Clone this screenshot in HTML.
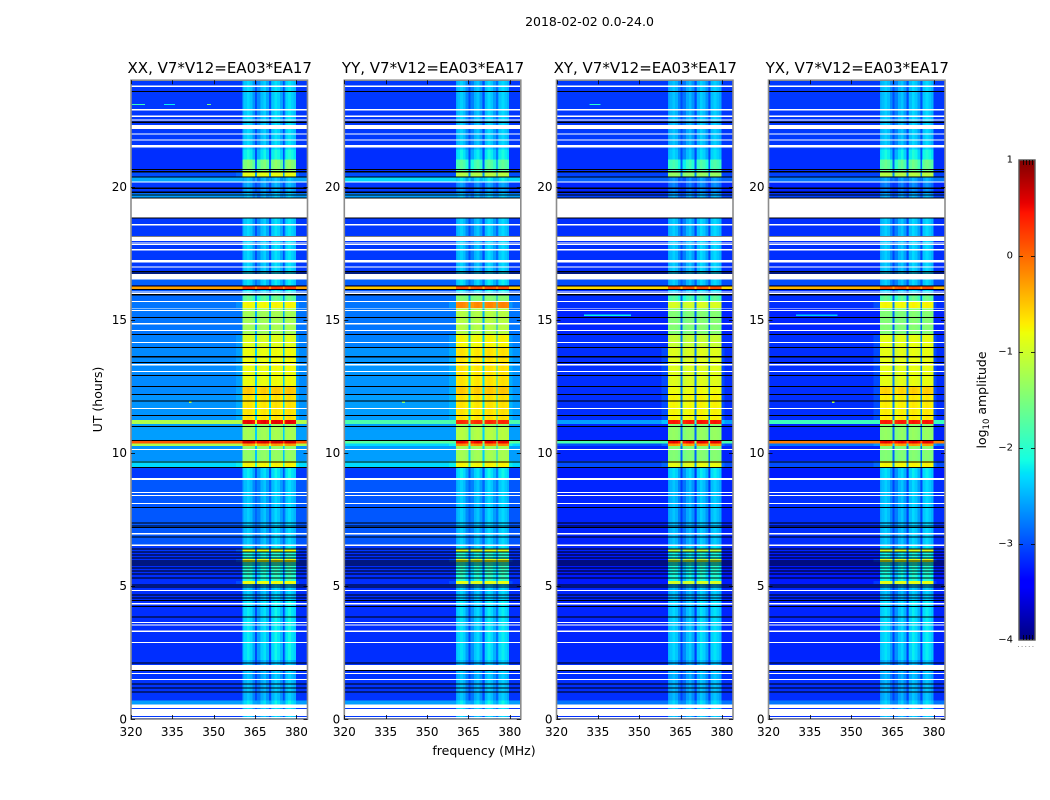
<!DOCTYPE html>
<html lang="en">
<head>
<meta charset="utf-8">
<title>2018-02-02 amplitude waterfall</title>
<style>
html,body{margin:0;padding:0;background:#fff;width:1050px;height:800px;overflow:hidden}
svg{display:block}
text{font-family:"DejaVu Sans","Liberation Sans",sans-serif;fill:#000}
</style>
</head>
<body>
<svg id="figure" xmlns="http://www.w3.org/2000/svg" width="1050" height="800" viewBox="0 0 1050 800">
  <text x="589.5" y="26" font-size="12.5" text-anchor="middle">2018-02-02 0.0-24.0</text>
  <text x="484" y="755" font-size="12.5" text-anchor="middle">frequency (MHz)</text>
  <text transform="translate(102,399.5) rotate(-90)" font-size="12.5" text-anchor="middle">UT (hours)</text>
  <text transform="translate(986,400) rotate(-90)" font-size="12.5" text-anchor="middle">log<tspan font-size="8.5" dy="3">10</tspan><tspan dy="-3"> amplitude</tspan></text>
  <g id="panels"></g>
  <g id="colorbar"></g>
</svg>
<script>
// ---- Data ----
const panelTitles = ["XX, V7*V12=EA03*EA17", "YY, V7*V12=EA03*EA17", "XY, V7*V12=EA03*EA17", "YX, V7*V12=EA03*EA17"];
const xTickLabels = [320, 335, 350, 365, 380];
const yTickLabels = [0, 5, 10, 15, 20];
const colorbarTicks = [-4, -3, -2, -1, 0, 1];

// Time segments (hours, top to bottom): each ends at segmentEnd[i]
const segmentEnd = [21.40,21.03,20.58,20.35,20.16,19.75,19.56,16.52,16.30,16.26,16.16,15.92,15.70,15.43,14.46,13.97,12.50,12.17,11.23,11.08,10.97,10.48,10.36,10.25,9.69,9.46,9.05,6.53,6.38,6.29,6.01,5.90,5.18,5.07,4.47,2.22,0.69,0.54,0];

// log10 amplitude outside the RFI band
const bgXX = [-3.1,-3.15,-3.15,-3.0,-2.55,-3.1,-2.6,-3.1,-2.9,-3.1,-0.3,-2.95,-2.85,-2.8,-2.8,-2.75,-2.7,-2.7,-2.65,-1.2,-2.6,-2.6,0.1,-1.2,-2.65,-2.3,-3.1,-2.95,-3.1,-3.1,-3.15,-3.15,-3.15,-3.15,-3.15,-3.15,-3.12,-2.6,-3.1];
const bgYY = [-3.1,-3.15,-3.15,-3.0,-2.3,-3.1,-2.6,-3.1,-2.9,-3.1,-0.5,-2.95,-2.85,-2.8,-2.8,-2.75,-2.65,-2.65,-2.6,-1.8,-2.6,-2.6,-1.7,-2.3,-2.6,-2.3,-3.1,-2.95,-3.1,-3.1,-3.15,-3.15,-3.15,-3.15,-3.15,-3.15,-3.12,-2.6,-3.1];
const bgXY = [-3.1,-3.15,-3.15,-3.05,-2.9,-3.2,-3.05,-3.15,-3.0,-3.15,-0.6,-3.15,-3.15,-3.15,-3.2,-3.15,-3.15,-3.15,-3.15,-2.6,-3.2,-3.2,-1.8,-3.0,-3.2,-3.0,-3.25,-3.2,-3.2,-3.2,-3.25,-3.25,-3.25,-3.25,-3.2,-3.2,-3.15,-2.8,-3.15];
const bgYX = [-3.1,-3.15,-3.15,-3.05,-2.8,-3.2,-3.05,-3.15,-3.0,-3.15,-0.4,-3.15,-3.15,-3.15,-3.2,-3.15,-3.15,-3.15,-3.15,-1.9,-3.2,-3.2,-0.1,-2.8,-3.2,-3.0,-3.25,-3.15,-3.2,-3.2,-3.25,-3.25,-3.25,-3.25,-3.2,-3.2,-3.15,-2.8,-3.15];

// log10 amplitude inside the RFI band
const bandXX = [-2.5,-2.3,-1.6,-0.9,-2.6,-2.7,-2.6,-2.5,-2.45,-2.6,0.2,-2.4,-1.8,-0.8,-1.3,-0.95,-0.85,-0.55,-0.7,0.5,-1.4,-1.3,0.6,-0.3,-1.4,-0.8,-2.4,-2.55,-2.45,-0.9,-2.2,-0.85,-2.15,-0.85,-2.55,-2.4,-2.6,-2.4,-2.55];
const bandYY = [-2.55,-2.35,-1.9,-1.2,-2.4,-2.8,-2.6,-2.55,-2.45,-2.6,0.1,-2.4,-1.5,-0.2,-1.2,-0.8,-0.7,-0.55,-0.7,0.3,-1.4,-1.2,0.5,-0.2,-1.3,-0.8,-2.4,-2.55,-2.45,-1.0,-2.2,-0.9,-2.15,-0.9,-2.55,-2.45,-2.6,-2.4,-2.55];
const bandXY = [-2.6,-2.5,-2.0,-1.4,-2.8,-2.9,-2.7,-2.55,-2.55,-2.7,0.1,-2.5,-1.9,-1.0,-1.5,-1.1,-0.95,-0.85,-0.8,0.4,-1.5,-1.4,0.5,-0.3,-1.5,-0.9,-2.45,-2.6,-2.45,-1.2,-2.3,-1.1,-2.25,-1.0,-2.6,-2.5,-2.65,-2.5,-2.6];
const bandYX = [-2.55,-2.3,-1.8,-1.2,-2.7,-2.9,-2.7,-2.55,-2.55,-2.7,0.1,-2.5,-1.8,-0.8,-1.5,-0.9,-0.9,-0.6,-0.75,0.4,-1.5,-1.4,0.5,-0.3,-1.5,-0.8,-2.45,-2.55,-2.45,-1.0,-2.3,-0.9,-2.25,-0.9,-2.6,-2.45,-2.65,-2.5,-2.6];

// Spectral windows of the RFI band (MHz) and the 1-MHz ripple across 360-380 MHz
const bandStart = [360.5, 365.7, 370.8, 375.6];
const bandEnd = [365.0, 370.1, 375.1, 379.8];
const channelRipple = [0.0,0.1,0.2,0.1,-0.15,-0.2,-0.2,0.05,0.15,-0.05,-0.15,0.1,0.25,0.15,-0.05,-0.15,0.15,0.25,0.15,0.05];
const shoulderStart = 358;
const shoulderEnd = 381;

// Flagged rows, hours: masked (white) start/end pairs, and zero-amplitude (black) rows
const maskedStart = [23.81,22.91,22.68,22.53,22.31,22.00,21.78,21.57,20.20,19.55,18.59,18.12,17.91,17.84,17.65,17.24,17.01,16.71,16.07,16.00,15.70,15.45,15.36,14.87,14.61,14.16,13.33,13.07,11.68,10.14,9.05,8.52,8.41,8.11,6.98,6.55,4.84,4.36,3.64,3.55,3.32,2.89,2.03,1.73,1.50,0.54,0.38,0.08];
const maskedEnd = [23.75,22.87,22.61,22.49,22.16,21.96,21.74,21.48,20.16,18.85,18.55,17.95,17.87,17.80,17.61,17.16,16.97,16.52,16.03,15.96,15.66,15.42,15.32,14.83,14.57,14.12,13.29,13.03,11.64,10.10,8.98,8.49,8.37,8.07,6.93,6.50,4.81,4.30,3.60,3.51,3.27,2.85,1.84,1.69,1.46,0.41,0.11,0.04];
const zeroRows = [23.57,22.42,20.64,20.56,20.37,19.94,19.79,19.68,19.58,18.83,18.13,16.82,16.76,16.27,16.14,15.94,15.08,14.44,13.95,13.61,13.39,12.90,12.49,12.19,11.94,11.40,10.99,10.47,9.65,9.45,7.94,7.36,7.25,7.19,6.84,6.38,6.27,6.16,6.05,5.93,5.86,5.78,5.67,5.56,5.45,5.29,5.03,4.96,4.66,4.54,4.45,4.22,3.83,2.10,1.82,1.31,1.16,1.01];

// Short narrowband features: panel index, hour, start MHz, end MHz, log10 amplitude
const featurePanel = [0,0,0,2,2,3,0,3,1];
const featureHour = [23.09,23.09,23.09,15.17,23.09,15.17,11.9,11.9,11.9];
const featureFrom = [320.4,332,347.5,330,332,330,341,343,341];
const featureTo = [325,336,349,347,336,345,342,344,342];
const featureValue = [-1.9,-2.2,-1.5,-2.2,-2.0,-2.4,-1.2,-1.2,-1.5];

// ---- Axis functions ----
const panelLeft = [131, 344.3, 556.5, 768.5];
const panelWidth = 176.5;
const plotTop = 80.2;
const plotBottom = 719;
const freqMin = 320, freqMax = 384;
const hourMin = 0, hourMax = 24;
const cbLeft = 1019, cbRight = 1035, cbTop = 160, cbBottom = 640;
const levelMin = -4, levelMax = 1;

function xScale(panel, freq) { return panelLeft[panel] + (freq - freqMin) / (freqMax - freqMin) * panelWidth; }
function yScale(hour) { return plotBottom - (hour - hourMin) / (hourMax - hourMin) * (plotBottom - plotTop); }
function cbScale(level) { return cbBottom - (level - levelMin) / (levelMax - levelMin) * (cbBottom - cbTop); }

function piece(stops, t) {
  for (let i = 1; i < stops.length; i++) {
    if (t <= stops[i][0]) {
      const a = stops[i - 1], b = stops[i];
      return a[1] + (b[1] - a[1]) * (t - a[0]) / (b[0] - a[0]);
    }
  }
  return stops[stops.length - 1][1];
}
function jet(level) {
  const t = Math.max(0, Math.min(1, (level - levelMin) / (levelMax - levelMin)));
  const r = piece([[0,0],[0.35,0],[0.66,1],[0.89,1],[1,0.5]], t);
  const g = piece([[0,0],[0.125,0],[0.375,1],[0.64,1],[0.91,0],[1,0]], t);
  const b = piece([[0,0.5],[0.11,1],[0.34,1],[0.65,0],[1,0]], t);
  return "rgb(" + Math.round(r * 255) + "," + Math.round(g * 255) + "," + Math.round(b * 255) + ")";
}

const NS = "http://www.w3.org/2000/svg";
function svgEl(tag, parent, attrs) {
  const el = document.createElementNS(NS, tag);
  for (const k in attrs) el.setAttribute(k, attrs[k]);
  parent.appendChild(el);
  return el;
}

const bgByPanel = [bgXX, bgYY, bgXY, bgYX];
const bandByPanel = [bandXX, bandYY, bandXY, bandYX];
const panelsGroup = document.getElementById("panels");

panelTitles.forEach(function (title, p) {
  const g = svgEl("g", panelsGroup, {});
  
  

  const left = panelLeft[p], right = left + panelWidth;
  const cells = svgEl("g", g, {"shape-rendering": "crispEdges"});
  
  

  let top = hourMax;
  segmentEnd.forEach(function (end, s) {
    const bg = bgByPanel[p][s], band = bandByPanel[p][s];
    const yT = yScale(top), yB = yScale(end);
    const row = svgEl("rect", cells, {x: left, y: yT, width: panelWidth, height: yB - yT, fill: jet(bg)});
    
    
    if (band > -1.0 && bg < -2) {
      const shoulder = svgEl("rect", cells, {x: xScale(p, shoulderStart), y: yT, width: xScale(p, shoulderEnd) - xScale(p, shoulderStart), height: yB - yT, fill: jet(bg + 0.06 * (band - bg))});
      
      
    }
    // gaps between the spectral windows
    const gapLevel = bg + 0.18 * (band - bg);
    const gapCell = svgEl("rect", cells, {x: xScale(p, bandStart[0]), y: yT, width: xScale(p, bandEnd[3]) - xScale(p, bandStart[0]), height: yB - yT, fill: jet(gapLevel)});
    
    
    bandStart.forEach(function (fStart, b) {
      for (let f = fStart; f < bandEnd[b]; f = Math.floor(f) + 1) {
        const fNext = Math.min(Math.floor(f) + 1, bandEnd[b]);
        const ripple = channelRipple[Math.floor(f) - 360] || 0;
        const scale = band < -1.5 ? 1 : 0.3;
        const cell = svgEl("rect", cells, {x: xScale(p, f), y: yT, width: xScale(p, fNext) - xScale(p, f), height: yB - yT, fill: jet(band + ripple * scale)});
        
        
      }
    });
    top = end;
  });

  featureHour.forEach(function (hour, i) {
    if (featurePanel[i] !== p) return;
    const mark = svgEl("rect", cells, {x: xScale(p, featureFrom[i]), y: yScale(hour + 0.02), width: xScale(p, featureTo[i]) - xScale(p, featureFrom[i]), height: yScale(hour - 0.02) - yScale(hour + 0.02), fill: jet(featureValue[i])});
    
    
  });

  zeroRows.forEach(function (hour) {
    const rowZero = svgEl("rect", cells, {x: left, y: yScale(hour + 0.02), width: panelWidth, height: yScale(hour - 0.02) - yScale(hour + 0.02), fill: "#000"});
    
    
  });
  maskedStart.forEach(function (hour, i) {
    const rowMask = svgEl("rect", cells, {x: left, y: yScale(hour), width: panelWidth, height: yScale(maskedEnd[i]) - yScale(hour), fill: "#fff"});
    
    
  });

  const frame = svgEl("rect", g, {x: left, y: plotTop, width: panelWidth, height: plotBottom - plotTop, fill: "none", stroke: "#8c8c8c", "stroke-width": 1.6});
  
  

  const titleEl = svgEl("text", g, {x: left + panelWidth / 2 + 0.5, y: plotTop - 7, "font-size": 15, "text-anchor": "middle"});
  titleEl.textContent = title;
  
  

  xTickLabels.forEach(function (freq) {
    const x = Math.round(xScale(p, freq)) + 0.5;
    const tickB = svgEl("line", g, {x1: x, x2: x, y1: plotBottom, y2: plotBottom - 4, stroke: "#000", "stroke-width": 0.8});
    
    
    const tickT = svgEl("line", g, {x1: x, x2: x, y1: plotTop, y2: plotTop + 4, stroke: "#000", "stroke-width": 0.8});
    
    
    const label = svgEl("text", g, {x: xScale(p, freq), y: 736, "font-size": 12, "text-anchor": "middle"});
    label.textContent = freq;
    
    
  });

  yTickLabels.forEach(function (hour) {
    const y = Math.round(yScale(hour)) + 0.5;
    const tickL = svgEl("line", g, {x1: left, x2: left + 4, y1: y, y2: y, stroke: "#000", "stroke-width": 0.8});
    
    
    const tickR = svgEl("line", g, {x1: right - 4, x2: right, y1: y, y2: y, stroke: "#000", "stroke-width": 0.8});
    
    
    const label = svgEl("text", g, {x: left - 4, y: yScale(hour) + 4.3, "font-size": 12, "text-anchor": "end"});
    label.textContent = hour;
    
    
  });
});

// ---- Colorbar ----
const cbGroup = document.getElementById("colorbar");
for (let py = cbTop; py < cbBottom; py++) {
  const level = levelMax - (py + 0.5 - cbTop) / (cbBottom - cbTop) * (levelMax - levelMin);
  const strip = svgEl("rect", cbGroup, {x: cbLeft, y: py, width: cbRight - cbLeft, height: 1, fill: jet(level), "shape-rendering": "crispEdges"});
  
  
}
const cbFrame = svgEl("rect", cbGroup, {x: cbLeft, y: cbTop, width: cbRight - cbLeft, height: cbBottom - cbTop, fill: "none", stroke: "#555", "stroke-width": 1.4});



colorbarTicks.forEach(function (level) {
  const y = Math.round(cbScale(level)) + 0.5;
  if (level > levelMin && level < levelMax) {
    const tickA = svgEl("line", cbGroup, {x1: cbLeft, x2: cbLeft + 4, y1: y, y2: y, stroke: "#000", "stroke-width": 0.8});
    
    
    const tickB = svgEl("line", cbGroup, {x1: cbRight - 4, x2: cbRight, y1: y, y2: y, stroke: "#000", "stroke-width": 0.8});
    
    
  }
  const label = svgEl("text", cbGroup, {x: cbLeft - 6, y: cbScale(level) + 2.5, "font-size": 10, "text-anchor": "end"});
  label.textContent = level < 0 ? "\u2212" + Math.abs(level) : String(level);
  
  
});

[1023, 1026, 1029, 1032].forEach(function (x) {
  const upper = svgEl("line", cbGroup, {x1: x + 0.5, x2: x + 0.5, y1: cbTop, y2: cbTop + 5, stroke: "#000", "stroke-width": 0.8});
  
  
  const lower = svgEl("line", cbGroup, {x1: x + 0.5, x2: x + 0.5, y1: cbBottom - 5, y2: cbBottom, stroke: "#000", "stroke-width": 0.8});
  
  
});
const dots = svgEl("line", cbGroup, {x1: 1018, x2: 1036, y1: 646.5, y2: 646.5, stroke: "#999", "stroke-width": 1, "stroke-dasharray": "1 2.6"});


</script>
</body>
</html>
